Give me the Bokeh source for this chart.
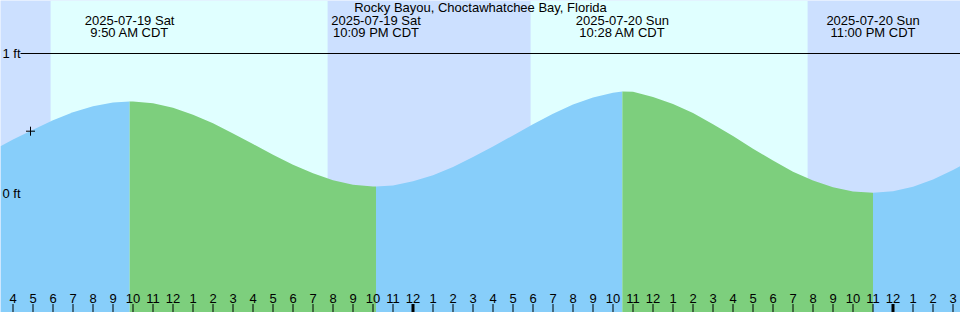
import numpy as np
from bokeh.plotting import figure
from bokeh.models import Range1d, Label
from bokeh.core.properties import value
from bokeh.embed import file_html
from bokeh.resources import INLINE

# ---------------- data ----------------
title_text = "Rocky Bayou, Choctawhatchee Bay, Florida"

# hours since 2025-07-19 00:00 CDT
hours = list(range(3, 53))
heights_ft = [0.31, 0.385, 0.455, 0.523, 0.581, 0.624, 0.65,
              0.657, 0.644, 0.612, 0.563, 0.501, 0.429, 0.353, 0.276, 0.205,
              0.144, 0.095, 0.063, 0.05,
              0.058, 0.087, 0.13, 0.19, 0.26, 0.335, 0.415, 0.495, 0.57,
              0.635, 0.685, 0.72,
              0.726, 0.69, 0.64, 0.575, 0.495, 0.41, 0.32, 0.235, 0.155,
              0.092, 0.045, 0.015, 0.005,
              0.016, 0.048, 0.1, 0.167, 0.247]

extreme_hours = [9.833, 22.15, 34.467, 47.0]
extreme_heights = [0.657, 0.05, 0.729, 0.005]
extreme_kind = ["H", "L", "H", "L"]
extreme_dates = ["2025-07-19 Sat", "2025-07-19 Sat", "2025-07-20 Sun", "2025-07-20 Sun"]
extreme_times = ["9:50 AM CDT", "10:09 PM CDT", "10:28 AM CDT", "11:00 PM CDT"]

sunrise_hours = [5.88, 29.88]
sunset_hours = [19.73, 43.73]

now_hour = [4.875]
now_height = [0.445]

tick_hours = list(range(4, 52))
tick_labels = [str(h % 12 if h % 12 else 12) for h in tick_hours]
midnight_hours = [24, 48]

# ---------------- styling ----------------
W, H = 960, 312
T0 = 3.375
T1 = T0 + 48.0
PX_PER_FT = 140.0
ZERO_PX = 193.0  # pixel row of 0 ft from the top
YTOP = ZERO_PX / PX_PER_FT
YBOT = YTOP - H / PX_PER_FT

NIGHT = "#cce0ff"
DAY = "#e0ffff"
RISE = "#87cefa"
FALL = "#7dcf7d"
FONT = "Liberation Sans"
FS = "13px"


def px_to_ft(py):
    return (ZERO_PX - py) / PX_PER_FT


p = figure(width=W, height=H, x_range=Range1d(T0, T1), y_range=Range1d(YBOT, YTOP),
           output_backend="svg", toolbar_location=None, min_border=0,
           x_axis_type=None, y_axis_type=None)
p.title.visible = False
p.grid.visible = False
p.outline_line_color = None
p.background_fill_color = NIGHT
p.border_fill_color = NIGHT

# day shading
p.quad(left=sunrise_hours, right=sunset_hours, bottom=YBOT, top=YTOP,
       fill_color=DAY, line_color=None)

# merged tide curve
pts = {}
for t, h in zip(hours, heights_ft):
    pts[float(t)] = h
for t, h in zip(extreme_hours, extreme_heights):
    pts[float(t)] = h
ts = np.array(sorted(pts))
hs = np.array([pts[t] for t in ts])

bounds = [T0] + extreme_hours + [T1]
for i in range(len(bounds) - 1):
    a, b = bounds[i], bounds[i + 1]
    inner = ts[(ts > a) & (ts < b)]
    xs = np.concatenate([[a], inner, [b]])
    ys = np.interp(xs, ts, hs)
    if i < len(extreme_kind):
        rising = extreme_kind[i] == "H"
    else:
        rising = extreme_kind[-1] == "L"
    p.varea(x=xs, y1=YBOT, y2=ys, fill_color=RISE if rising else FALL)

# 1 ft line
p.segment(x0=[T0 + 20 / 20.0], x1=[T1], y0=[1.0], y1=[1.0], line_color="black", line_width=1)

# y labels
for lab, ft in [("1 ft", 1.0), ("0 ft", 0.0)]:
    p.add_layout(Label(x=2, y=H - (ZERO_PX - ft * PX_PER_FT), x_units="screen", y_units="screen",
                       text=lab, text_font=FONT, text_font_size=FS, text_baseline="middle",
                       text_align="left", text_color="black"))

# title
p.add_layout(Label(x=W / 2, y=H - 7, x_units="screen", y_units="screen", text=title_text,
                   text_font=FONT, text_font_size=FS, text_align="center",
                   text_baseline="middle", text_color="black"))

# extreme labels
for t, d, tm in zip(extreme_hours, extreme_dates, extreme_times):
    p.add_layout(Label(x=t, y=H - 19.5, x_units="data", y_units="screen", text=d,
                       text_font=FONT, text_font_size=FS, text_align="center",
                       text_baseline="middle", text_color="black"))
    p.add_layout(Label(x=t, y=H - 31.5, x_units="data", y_units="screen", text=tm,
                       text_font=FONT, text_font_size=FS, text_align="center",
                       text_baseline="middle", text_color="black"))

# now marker
p.scatter(x=now_hour, y=now_height, marker="cross", size=9, line_color="black", line_width=1)

# hour ticks
p.segment(x0=tick_hours, x1=tick_hours, y0=YBOT, y1=YBOT + 8.5 / PX_PER_FT,
          line_color="black", line_width=1)
p.segment(x0=midnight_hours, x1=midnight_hours, y0=YBOT, y1=YBOT + 8.5 / PX_PER_FT,
          line_color="black", line_width=3)
p.text(x=tick_hours, y=px_to_ft(297.5), text=tick_labels, text_font=value(FONT),
       text_font_size=FS, text_align="center", text_baseline="middle", text_color="black")

open("out.html", "w").write(file_html(p, INLINE))
